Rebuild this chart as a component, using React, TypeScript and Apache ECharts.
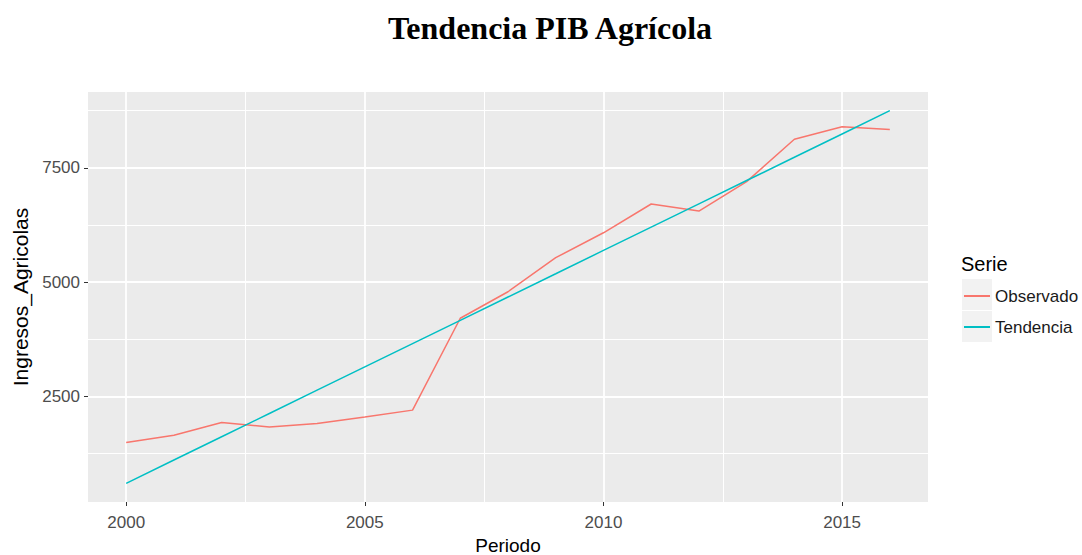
import React, { useEffect, useRef } from "react";
import * as echarts from "echarts";

const years = [2000, 2001, 2002, 2003, 2004, 2005, 2006, 2007, 2008, 2009, 2010, 2011, 2012, 2013, 2014, 2015, 2016];
const observado = [1490, 1650, 1930, 1830, 1905, 2050, 2200, 4210, 4790, 5535, 6080, 6710, 6555, 7200, 8125, 8400, 8340];
const tendencia = [598, 1108, 1617, 2127, 2636, 3146, 3656, 4165, 4675, 5184, 5694, 6204, 6713, 7223, 7732, 8242, 8752];

const xTicks = [2000, 2005, 2010, 2015];
const xMinor = [2002.5, 2007.5, 2012.5];
const yTicks = [2500, 5000, 7500];
const yMinor = [1250, 3750, 6250, 8750];

const seriesNames = ["Observado", "Tendencia"];
const seriesColors = ["#F8766D", "#00BFC4"];

const FONT = '"Liberation Sans", Arial, sans-serif';

export default function App() {
  const ref = useRef<HTMLDivElement>(null);
  useEffect(() => {
    if (!ref.current) return;
    const chart = echarts.init(ref.current, undefined, { renderer: "svg" });
    const major = { color: "#FFFFFF", width: 1.8, type: "solid" };
    const minor = { color: "#FFFFFF", width: 1, type: "solid" };
    const gridLines = [
      ...xMinor.map((v) => ({ xAxis: v, lineStyle: minor })),
      ...yMinor.map((v) => ({ yAxis: v, lineStyle: minor })),
      ...xTicks.map((v) => ({ xAxis: v, lineStyle: major })),
      ...yTicks.map((v) => ({ yAxis: v, lineStyle: major })),
    ];
    chart.setOption({
      animation: false,
      grid: {
        left: 88,
        right: 154,
        top: 92,
        bottom: 53,
        containLabel: false,
        outerBoundsMode: "none",
        show: true,
        backgroundColor: "#EBEBEB",
        borderWidth: 0,
      },
      xAxis: {
        type: "value",
        min: 1999.2,
        max: 2016.8,
        name: "Periodo",
        nameLocation: "middle",
        nameGap: 31,
        nameTextStyle: { fontFamily: FONT, fontSize: 19, lineHeight: 19, color: "#000" },
        axisLine: { show: false },
        splitLine: { show: false },
        axisTick: { show: true, length: 4, customValues: xTicks, lineStyle: { color: "#333", width: 1 } },
        axisLabel: {
          customValues: xTicks,
          formatter: (v: number) => String(v),
          fontFamily: FONT,
          fontSize: 17,
          color: "#4D4D4D",
          margin: 12,
        },
      },
      yAxis: {
        type: "value",
        min: 190,
        max: 9160,
        name: "Ingresos_Agricolas",
        nameLocation: "middle",
        nameRotate: 90,
        nameGap: 55,
        nameTextStyle: { fontFamily: FONT, fontSize: 21, color: "#000" },
        axisLine: { show: false },
        splitLine: { show: false },
        axisTick: { show: true, length: 4, customValues: yTicks, lineStyle: { color: "#333", width: 1 } },
        axisLabel: {
          customValues: yTicks,
          formatter: (v: number) => String(v),
          fontFamily: FONT,
          fontSize: 17,
          color: "#4D4D4D",
          margin: 8,
        },
      },
      legend: {
        data: seriesNames,
        orient: "vertical",
        left: 964,
        top: 286,
        padding: 0,
        itemGap: 11,
        itemWidth: 26,
        itemHeight: 2,
        icon: "rect",
        selectedMode: false,
        textStyle: { fontFamily: FONT, fontSize: 17, color: "#1A1A1A", lineHeight: 20 },
      },
      graphic: [
        {
          type: "text",
          x: 550,
          y: 28,
          style: {
            text: "Tendencia PIB Agrícola",
            textAlign: "center",
            textVerticalAlign: "middle",
            font: 'bold 32px "Liberation Serif", "Times New Roman", serif',
            fill: "#000",
          },
        },
        {
          type: "text",
          x: 961,
          y: 264,
          style: {
            text: "Serie",
            textAlign: "left",
            textVerticalAlign: "middle",
            font: '20px "Liberation Sans", Arial, sans-serif',
            fill: "#000",
          },
        },
        { type: "rect", z: -1, shape: { x: 962, y: 279, width: 30, height: 31 }, style: { fill: "#F2F2F2" } },
        { type: "rect", z: -1, shape: { x: 962, y: 311, width: 30, height: 31 }, style: { fill: "#F2F2F2" } },
      ],
      series: [
        {
          type: "line",
          name: "grid",
          data: [],
          z: 1,
          silent: true,
          markLine: {
            silent: true,
            symbol: ["none", "none"],
            label: { show: false },
            z: 1,
            data: gridLines,
          },
        },
        {
          type: "line",
          name: seriesNames[0],
          data: years.map((y, i) => [y, observado[i]]),
          showSymbol: false,
          z: 3,
          color: seriesColors[0],
          lineStyle: { color: seriesColors[0], width: 1.5 },
        },
        {
          type: "line",
          name: seriesNames[1],
          data: years.map((y, i) => [y, tendencia[i]]),
          showSymbol: false,
          z: 3,
          color: seriesColors[1],
          lineStyle: { color: seriesColors[1], width: 1.5 },
        },
      ],
    });
    return () => chart.dispose();
  }, []);
  return <div ref={ref} style={{ position: "absolute", left: 0, top: 0, width: 1082, height: 555 }} />;
}
